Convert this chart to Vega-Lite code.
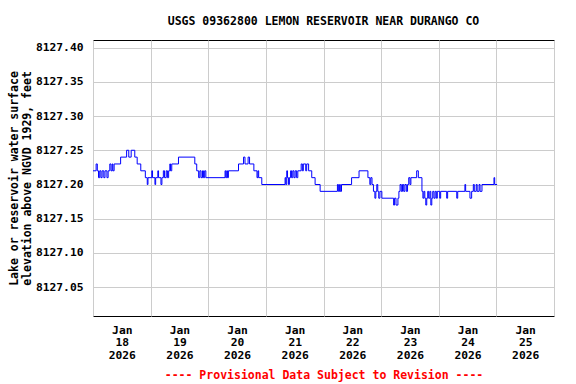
{
  "$schema": "https://vega.github.io/schema/vega-lite/v6.json",
  "width": 461,
  "height": 276,
  "autosize": {"type": "none"},
  "padding": {"left": 93, "top": 40, "right": 22, "bottom": 68},
  "background": "white",
  "config": {"view": {"stroke": "black", "strokeWidth": 1}, "font": "DejaVu Sans Mono"},
  "title": {"text": "USGS 09362800 LEMON RESERVOIR NEAR DURANGO CO", "font": "DejaVu Sans Mono", "fontSize": 11.5, "fontWeight": "bold", "anchor": "middle", "offset": 13, "color": "black"},
  "data": {"values": [
    {"t": "2026-01-18T00:00", "v": 8127.22},
    {"t": "2026-01-18T01:18", "v": 8127.23},
    {"t": "2026-01-18T01:48", "v": 8127.22},
    {"t": "2026-01-18T02:18", "v": 8127.21},
    {"t": "2026-01-18T02:48", "v": 8127.22},
    {"t": "2026-01-18T03:18", "v": 8127.21},
    {"t": "2026-01-18T03:48", "v": 8127.22},
    {"t": "2026-01-18T04:30", "v": 8127.21},
    {"t": "2026-01-18T05:00", "v": 8127.22},
    {"t": "2026-01-18T05:48", "v": 8127.21},
    {"t": "2026-01-18T06:18", "v": 8127.22},
    {"t": "2026-01-18T07:00", "v": 8127.23},
    {"t": "2026-01-18T07:30", "v": 8127.22},
    {"t": "2026-01-18T08:00", "v": 8127.23},
    {"t": "2026-01-18T08:18", "v": 8127.22},
    {"t": "2026-01-18T08:48", "v": 8127.23},
    {"t": "2026-01-18T11:30", "v": 8127.24},
    {"t": "2026-01-18T14:00", "v": 8127.25},
    {"t": "2026-01-18T14:54", "v": 8127.24},
    {"t": "2026-01-18T15:54", "v": 8127.25},
    {"t": "2026-01-18T17:24", "v": 8127.24},
    {"t": "2026-01-18T18:24", "v": 8127.23},
    {"t": "2026-01-18T19:54", "v": 8127.22},
    {"t": "2026-01-18T21:48", "v": 8127.21},
    {"t": "2026-01-18T22:36", "v": 8127.20},
    {"t": "2026-01-18T22:54", "v": 8127.21},
    {"t": "2026-01-19T00:30", "v": 8127.22},
    {"t": "2026-01-19T00:48", "v": 8127.21},
    {"t": "2026-01-19T01:48", "v": 8127.20},
    {"t": "2026-01-19T02:06", "v": 8127.21},
    {"t": "2026-01-19T03:00", "v": 8127.22},
    {"t": "2026-01-19T03:18", "v": 8127.21},
    {"t": "2026-01-19T04:18", "v": 8127.20},
    {"t": "2026-01-19T04:42", "v": 8127.21},
    {"t": "2026-01-19T05:18", "v": 8127.22},
    {"t": "2026-01-19T05:48", "v": 8127.21},
    {"t": "2026-01-19T06:30", "v": 8127.22},
    {"t": "2026-01-19T07:00", "v": 8127.21},
    {"t": "2026-01-19T07:30", "v": 8127.22},
    {"t": "2026-01-19T08:00", "v": 8127.23},
    {"t": "2026-01-19T08:18", "v": 8127.22},
    {"t": "2026-01-19T08:48", "v": 8127.23},
    {"t": "2026-01-19T11:36", "v": 8127.24},
    {"t": "2026-01-19T18:24", "v": 8127.23},
    {"t": "2026-01-19T19:12", "v": 8127.22},
    {"t": "2026-01-19T20:00", "v": 8127.21},
    {"t": "2026-01-19T20:30", "v": 8127.22},
    {"t": "2026-01-19T21:00", "v": 8127.21},
    {"t": "2026-01-19T21:36", "v": 8127.22},
    {"t": "2026-01-19T22:00", "v": 8127.21},
    {"t": "2026-01-19T22:30", "v": 8127.22},
    {"t": "2026-01-19T23:00", "v": 8127.21},
    {"t": "2026-01-20T07:00", "v": 8127.22},
    {"t": "2026-01-20T07:18", "v": 8127.21},
    {"t": "2026-01-20T07:42", "v": 8127.22},
    {"t": "2026-01-20T08:00", "v": 8127.21},
    {"t": "2026-01-20T08:24", "v": 8127.22},
    {"t": "2026-01-20T12:36", "v": 8127.23},
    {"t": "2026-01-20T14:42", "v": 8127.24},
    {"t": "2026-01-20T15:18", "v": 8127.23},
    {"t": "2026-01-20T16:36", "v": 8127.24},
    {"t": "2026-01-20T17:12", "v": 8127.23},
    {"t": "2026-01-20T19:00", "v": 8127.22},
    {"t": "2026-01-20T20:18", "v": 8127.21},
    {"t": "2026-01-20T20:42", "v": 8127.22},
    {"t": "2026-01-20T21:00", "v": 8127.21},
    {"t": "2026-01-20T22:18", "v": 8127.20},
    {"t": "2026-01-21T08:00", "v": 8127.21},
    {"t": "2026-01-21T08:18", "v": 8127.20},
    {"t": "2026-01-21T08:42", "v": 8127.22},
    {"t": "2026-01-21T09:00", "v": 8127.21},
    {"t": "2026-01-21T09:24", "v": 8127.20},
    {"t": "2026-01-21T09:48", "v": 8127.21},
    {"t": "2026-01-21T10:18", "v": 8127.22},
    {"t": "2026-01-21T10:42", "v": 8127.21},
    {"t": "2026-01-21T11:12", "v": 8127.22},
    {"t": "2026-01-21T11:42", "v": 8127.21},
    {"t": "2026-01-21T12:12", "v": 8127.22},
    {"t": "2026-01-21T12:48", "v": 8127.21},
    {"t": "2026-01-21T13:18", "v": 8127.22},
    {"t": "2026-01-21T14:42", "v": 8127.23},
    {"t": "2026-01-21T15:12", "v": 8127.22},
    {"t": "2026-01-21T15:36", "v": 8127.23},
    {"t": "2026-01-21T16:36", "v": 8127.22},
    {"t": "2026-01-21T17:00", "v": 8127.23},
    {"t": "2026-01-21T17:48", "v": 8127.22},
    {"t": "2026-01-21T19:06", "v": 8127.21},
    {"t": "2026-01-21T20:30", "v": 8127.20},
    {"t": "2026-01-21T22:36", "v": 8127.19},
    {"t": "2026-01-22T05:48", "v": 8127.20},
    {"t": "2026-01-22T06:12", "v": 8127.19},
    {"t": "2026-01-22T06:42", "v": 8127.20},
    {"t": "2026-01-22T07:00", "v": 8127.19},
    {"t": "2026-01-22T07:30", "v": 8127.20},
    {"t": "2026-01-22T11:42", "v": 8127.21},
    {"t": "2026-01-22T14:48", "v": 8127.22},
    {"t": "2026-01-22T18:30", "v": 8127.21},
    {"t": "2026-01-22T19:18", "v": 8127.20},
    {"t": "2026-01-22T19:42", "v": 8127.21},
    {"t": "2026-01-22T20:12", "v": 8127.20},
    {"t": "2026-01-22T20:48", "v": 8127.19},
    {"t": "2026-01-22T21:24", "v": 8127.18},
    {"t": "2026-01-22T21:48", "v": 8127.19},
    {"t": "2026-01-22T22:12", "v": 8127.20},
    {"t": "2026-01-22T22:36", "v": 8127.19},
    {"t": "2026-01-22T23:00", "v": 8127.18},
    {"t": "2026-01-22T23:30", "v": 8127.19},
    {"t": "2026-01-23T00:18", "v": 8127.18},
    {"t": "2026-01-23T05:12", "v": 8127.17},
    {"t": "2026-01-23T05:36", "v": 8127.18},
    {"t": "2026-01-23T06:12", "v": 8127.17},
    {"t": "2026-01-23T07:00", "v": 8127.18},
    {"t": "2026-01-23T07:24", "v": 8127.19},
    {"t": "2026-01-23T07:54", "v": 8127.20},
    {"t": "2026-01-23T08:24", "v": 8127.19},
    {"t": "2026-01-23T08:54", "v": 8127.20},
    {"t": "2026-01-23T09:24", "v": 8127.19},
    {"t": "2026-01-23T09:54", "v": 8127.20},
    {"t": "2026-01-23T10:30", "v": 8127.19},
    {"t": "2026-01-23T11:00", "v": 8127.20},
    {"t": "2026-01-23T11:30", "v": 8127.21},
    {"t": "2026-01-23T12:00", "v": 8127.20},
    {"t": "2026-01-23T12:24", "v": 8127.21},
    {"t": "2026-01-23T14:48", "v": 8127.22},
    {"t": "2026-01-23T15:30", "v": 8127.21},
    {"t": "2026-01-23T17:00", "v": 8127.19},
    {"t": "2026-01-23T17:24", "v": 8127.18},
    {"t": "2026-01-23T17:48", "v": 8127.19},
    {"t": "2026-01-23T18:12", "v": 8127.18},
    {"t": "2026-01-23T18:36", "v": 8127.17},
    {"t": "2026-01-23T19:00", "v": 8127.18},
    {"t": "2026-01-23T19:24", "v": 8127.19},
    {"t": "2026-01-23T19:48", "v": 8127.18},
    {"t": "2026-01-23T20:18", "v": 8127.19},
    {"t": "2026-01-23T20:42", "v": 8127.17},
    {"t": "2026-01-23T21:06", "v": 8127.18},
    {"t": "2026-01-23T21:30", "v": 8127.19},
    {"t": "2026-01-23T22:00", "v": 8127.18},
    {"t": "2026-01-23T22:30", "v": 8127.19},
    {"t": "2026-01-23T23:00", "v": 8127.18},
    {"t": "2026-01-23T23:24", "v": 8127.19},
    {"t": "2026-01-24T00:24", "v": 8127.18},
    {"t": "2026-01-24T00:48", "v": 8127.19},
    {"t": "2026-01-24T03:18", "v": 8127.18},
    {"t": "2026-01-24T03:42", "v": 8127.19},
    {"t": "2026-01-24T07:30", "v": 8127.18},
    {"t": "2026-01-24T07:54", "v": 8127.19},
    {"t": "2026-01-24T10:54", "v": 8127.20},
    {"t": "2026-01-24T11:12", "v": 8127.19},
    {"t": "2026-01-24T13:00", "v": 8127.18},
    {"t": "2026-01-24T13:42", "v": 8127.19},
    {"t": "2026-01-24T14:24", "v": 8127.20},
    {"t": "2026-01-24T14:48", "v": 8127.19},
    {"t": "2026-01-24T15:36", "v": 8127.20},
    {"t": "2026-01-24T16:00", "v": 8127.19},
    {"t": "2026-01-24T16:48", "v": 8127.20},
    {"t": "2026-01-24T17:12", "v": 8127.19},
    {"t": "2026-01-24T18:00", "v": 8127.20},
    {"t": "2026-01-24T23:00", "v": 8127.21},
    {"t": "2026-01-24T23:18", "v": 8127.20},
    {"t": "2026-01-25T00:18", "v": 8127.20}
  ]},
  "mark": {"type": "line", "interpolate": "step-after", "color": "#0000ff", "strokeWidth": 1},
  "encoding": {
    "x": {
      "field": "t",
      "type": "temporal",
      "scale": {"domain": [{"year": 2026, "month": 1, "date": 18}, {"year": 2026, "month": 1, "date": 26}]},
      "axis": {
        "title": "---- Provisional Data Subject to Revision ----",
        "titleColor": "#ff0000",
        "titleFont": "DejaVu Sans Mono",
        "titleFontSize": 11.5,
        "titleFontWeight": "bold",
        "titlePadding": 9,
        "values": [
          {"year": 2026, "month": 1, "date": 18, "hours": 0},
          {"year": 2026, "month": 1, "date": 18, "hours": 12},
          {"year": 2026, "month": 1, "date": 19, "hours": 0},
          {"year": 2026, "month": 1, "date": 19, "hours": 12},
          {"year": 2026, "month": 1, "date": 20, "hours": 0},
          {"year": 2026, "month": 1, "date": 20, "hours": 12},
          {"year": 2026, "month": 1, "date": 21, "hours": 0},
          {"year": 2026, "month": 1, "date": 21, "hours": 12},
          {"year": 2026, "month": 1, "date": 22, "hours": 0},
          {"year": 2026, "month": 1, "date": 22, "hours": 12},
          {"year": 2026, "month": 1, "date": 23, "hours": 0},
          {"year": 2026, "month": 1, "date": 23, "hours": 12},
          {"year": 2026, "month": 1, "date": 24, "hours": 0},
          {"year": 2026, "month": 1, "date": 24, "hours": 12},
          {"year": 2026, "month": 1, "date": 25, "hours": 0},
          {"year": 2026, "month": 1, "date": 25, "hours": 12},
          {"year": 2026, "month": 1, "date": 26, "hours": 0}
        ],
        "labelExpr": "hours(datum.value) == 12 ? ['Jan', '' + date(datum.value), '2026'] : ''",
        "labelFont": "DejaVu Sans Mono",
        "labelFontSize": 11.3,
        "labelFontWeight": "bold",
        "labelColor": "black",
        "labelLineHeight": 12.7,
        "labelPadding": 8,
        "labelOverlap": false,
        "labelFlush": false,
        "ticks": false,
        "domain": false,
        "gridColor": "#cccccc",
        "gridOpacity": {"condition": {"test": "hours(datum.value) == 0", "value": 1}, "value": 0}
      }
    },
    "y": {
      "field": "v",
      "type": "quantitative",
      "scale": {"domain": [8127.008, 8127.411], "zero": false, "nice": false},
      "axis": {
        "title": ["Lake or reservoir water surface", "elevation above NGVD 1929, feet"],
        "values": [8127.05, 8127.1, 8127.15, 8127.2, 8127.25, 8127.3, 8127.35, 8127.4],
        "format": ".2f",
        "labelFont": "DejaVu Sans Mono",
        "labelFontSize": 11.3,
        "labelFontWeight": "bold",
        "labelColor": "black",
        "labelPadding": 10,
        "ticks": false,
        "domain": false,
        "gridColor": "#cccccc",
        "titleFont": "DejaVu Sans Mono",
        "titleFontSize": 11.5,
        "titleFontWeight": "bold",
        "titleColor": "black",
        "titleLineHeight": 13,
        "titlePadding": 3
      }
    }
  }
}
